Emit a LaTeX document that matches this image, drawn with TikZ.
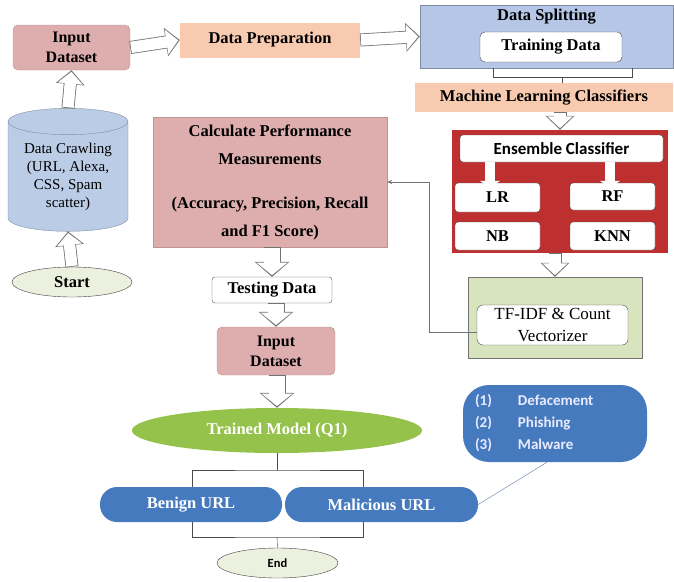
\documentclass[tikz,border=0pt]{standalone}
\usepackage{fontspec}
\setmainfont{Liberation Serif}[BoldFont={Liberation Serif Bold}]
\newfontfamily\calfont{Carlito}
\usetikzlibrary{arrows.meta,shapes.geometric,positioning}
\definecolor{pinkbox}{RGB}{222,174,174}
\definecolor{salmon}{RGB}{248,203,176}
\definecolor{splitblue}{RGB}{182,198,230}
\definecolor{ensred}{RGB}{190,48,48}
\definecolor{vecgreen}{RGB}{216,228,190}
\definecolor{modelgreen}{RGB}{148,194,74}
\definecolor{urlblue}{RGB}{70,122,190}
\definecolor{endfill}{RGB}{236,240,222}
\definecolor{crawlblue}{RGB}{186,204,230}
\begin{document}
\begin{tikzpicture}
        [x=1pt,y=-1pt,
        every node/.style={inner sep=0pt,align=center,font=\bfseries\fontsize{16.5}{19}\selectfont},
        pink-box/.style={rectangle,fill=pinkbox,draw=pinkbox!85!black,thin},
        salmon-box/.style={rectangle,fill=salmon},
        white-box/.style={rectangle,rounded corners=3pt,fill=white,draw=black!70,thin},
        url-pill/.style={rectangle,rounded corners=17pt,fill=urlblue,text=white,minimum height=35pt},
        term-oval/.style={ellipse,fill=endfill,draw=black!75,thin,minimum width=120pt,minimum height=30pt},
        hollow/.style={draw=black!55,line width=13pt,-{Triangle[length=14pt,width=28pt]},
            postaction={draw=white,line width=11.4pt,shorten >=1.6pt,shorten <=0.8pt,-{Triangle[length=11.8pt,width=24.5pt]}}},
        hollow-big/.style={draw=black!55,line width=17pt,-{Triangle[length=15pt,width=34pt]},
            postaction={draw=white,line width=15.4pt,shorten >=1.7pt,shorten <=0.8pt,-{Triangle[length=12.6pt,width=30.5pt]}}},
        small-hollow/.style={draw=white,line width=10pt,-{Triangle[length=7pt,width=20pt]}},
        bracket/.style={draw=black!70,thin},
        feedback/.style={draw=black!55,thin,-{Stealth[length=5pt,width=4pt]}}
        ]
        \useasboundingbox (0,0) rectangle (674,581);
        % left column
        \node[pink-box,rounded corners=5pt,minimum width=117pt,minimum height=45pt,font=\bfseries\fontsize{16}{20}\selectfont] (input-1) at (71.5,47.5) {Input\\Dataset};
        \node[cylinder,shape border rotate=90,aspect=0.3,fill=crawlblue,draw=crawlblue!70!black,thin,
              minimum width=120pt,minimum height=123pt,font=\fontsize{15}{18}\selectfont] (crawl) at (68,176.5)
              {Data Crawling\\(URL, Alexa,\\CSS, Spam\\scatter)};
        \node[term-oval] (start) at (72,282) {Start};
        % top row
        \node[salmon-box,minimum width=180pt,minimum height=35pt] (prep) at (270,40) {Data Preparation};
        \node[rectangle,fill=splitblue,draw=splitblue!70!black,thin,minimum width=253pt,minimum height=63pt] (split) at (546.5,36.5) {};
        \node (split-title) at (546.5,17) {Data Splitting};
        \node[white-box,rounded corners=5pt,minimum width=142pt,minimum height=30pt] (train) at (551,47) {Training Data};
        \node[salmon-box,minimum width=258pt,minimum height=29pt] (ml) at (544,97.5) {Machine Learning Classifiers};
        % ensemble
        \node[rectangle,fill=ensred,minimum width=216pt,minimum height=123pt] (ens) at (560,191.5) {};
        \node[white-box,minimum width=203pt,minimum height=27pt,font=\calfont\bfseries\fontsize{17}{19}\selectfont] (ens-head) at (561.5,148.5) {Ensemble Classifier};
        \node[white-box,minimum width=85pt,minimum height=29pt] (lr) at (497.5,197.5) {LR};
        \node[white-box,minimum width=85pt,minimum height=27pt] (rf) at (612.5,196.5) {RF};
        \node[white-box,minimum width=85pt,minimum height=28pt] (nb) at (497.5,236) {NB};
        \node[white-box,minimum width=85pt,minimum height=28pt] (knn) at (612.5,236) {KNN};
        \node[rectangle,fill=vecgreen,draw=black!55,thin,minimum width=174pt,minimum height=81pt] (vec) at (555,317.5) {};
        \node[white-box,rounded corners=6pt,minimum width=151pt,minimum height=40pt,font=\fontsize{17}{22}\selectfont] (tfidf) at (552.5,325) {TF-IDF \& Count\\Vectorizer};
        % middle column
        \node[pink-box,minimum width=234pt,minimum height=130pt] (calc) at (270,182)
              {Calculate Performance\\[9pt]Measurements\\[25pt](Accuracy, Precision, Recall\\[9pt]and F1 Score)};
        \node[white-box,minimum width=120pt,minimum height=26pt] (test) at (272,290) {Testing Data};
        \node[pink-box,rounded corners=5pt,minimum width=118pt,minimum height=48pt,font=\bfseries\fontsize{16}{20}\selectfont] (input-2) at (276,351) {Input\\Dataset};
        \node[ellipse,fill=modelgreen,text=white,minimum width=290pt,minimum height=45pt] (model) at (277,430.5) {Trained Model (Q1)};
        % brackets round the results
        \draw[bracket] (model.south) -- (277,470) coordinate (split-top);
        \draw[bracket] (192,487) |- (split-top) -| (363,487);
        \draw[bracket] (192,522) |- (277,537) coordinate (split-bot) -| (363,522);
        \node[url-pill,minimum width=182pt] (benign) at (191,504.5) {Benign URL};
        \node[url-pill,minimum width=193pt] (malicious) at (381.5,504.5) {Malicious URL};
        \node[term-oval,minimum width=121pt,font=\calfont\bfseries\fontsize{12.5}{14}\selectfont] (end) at (277.5,563) {End};
        \node[rectangle,rounded corners=26pt,fill=urlblue,minimum width=184pt,minimum height=77pt,
              text=blue!8,align=left,text width=160pt,font=\calfont\bfseries\fontsize{15}{22}\selectfont] (types) at (555,423.5)
              {(1)\hspace{26pt}Defacement\\(2)\hspace{26pt}Phishing\\(3)\hspace{26pt}Malware};
        \draw[bracket] (split-bot) -- (end.north);
        \draw[draw=urlblue!60!gray,thin] ([xshift=-8pt]types.south) -- (malicious.east);
        % block arrows
        \draw[hollow] (start.north) -- (crawl.south);
        \draw[hollow] (crawl.north) -- (input-1.south);
        \draw[hollow] (input-1.east) -- (prep.west);
        \draw[hollow] (prep.east) -- (split.west);
        \draw[bracket] (493,68) |- (632,77) -- (632,68);
        \draw[bracket] (562,77) -- (ml.north -| 562,0);
        \draw[hollow] (ml.south -| ens.north) -- (ens.north);
        \draw[small-hollow] (ens-head.south -| 490,0) -- ([yshift=-5pt]lr.north -| 490,0);
        \draw[small-hollow] (ens-head.south -| 610,0) -- ([yshift=-5pt]rf.north -| 610,0);
        \draw[hollow] (ens.south -| vec.north) -- (vec.north);
        \draw[feedback] ([yshift=-7pt]tfidf.west) -- ++(-48,0) |- (calc.east);
        \draw[hollow-big] (calc.south -| test.north) -- (test.north);
        \draw[hollow-big] (test.south -| input-2.north) -- (input-2.north);
        \draw[hollow-big] (input-2.south -| model.north) -- (model.north);
    \end{tikzpicture}
\end{document}
